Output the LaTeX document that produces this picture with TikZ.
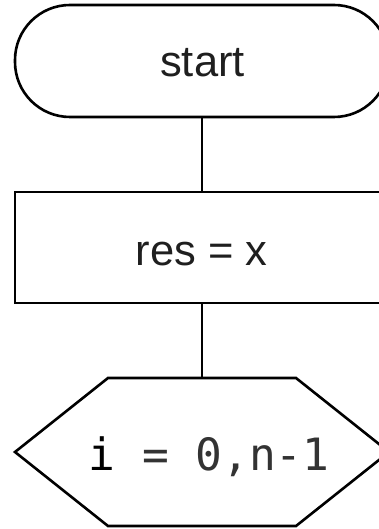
\documentclass[tikz,border=0pt]{standalone}
\usepackage{fontspec}
\setmainfont{Liberation Sans}
\newfontfamily\codefont{DejaVu Sans Mono}
\definecolor{codegray}{HTML}{333333}
\begin{document}
\begin{tikzpicture}[x=1pt, y=-1pt,
  shapeline/.style={draw=black, line width=2.6pt},
  flowlabel/.style={font=\fontsize{43.5}{50}\selectfont, text=black!88, inner sep=0pt, anchor=base},
  codelabel/.style={font=\codefont\fontsize{44.5}{50}\selectfont, text=codegray, inner sep=0pt, anchor=base},
  link/.style={draw=black, line width=2.6pt}]
  \useasboundingbox (0,0) rectangle (378,529);

  % start terminator
  \node[shapeline, rounded corners=55pt, minimum width=374pt, minimum height=112pt,
        inner sep=0pt] (start) at (202,61) {};
  \node[flowlabel] (starttext) at (202.5,77) {start};

  % assignment box
  \node[shapeline, minimum width=374pt, minimum height=111pt, inner sep=0pt]
        (assign) at (202,247.5) {};
  \node[flowlabel] (assigntext) at (201.5,265) {res = x};

  % loop hexagon
  \coordinate (looptop) at (202,378);
  \draw[shapeline] (15,452) -- (108,378) -- (296,378) -- (389,452)
                   -- (296,526) -- (108,526) -- cycle;
  \node[codelabel] (looptext) at (209,470) {\textcolor{black}{i} = 0,n-1};

  % connectors
  \draw[link] (start.south) -- (assign.north);
  \draw[link] (assign.south) -- (looptop);
\end{tikzpicture}
\end{document}
